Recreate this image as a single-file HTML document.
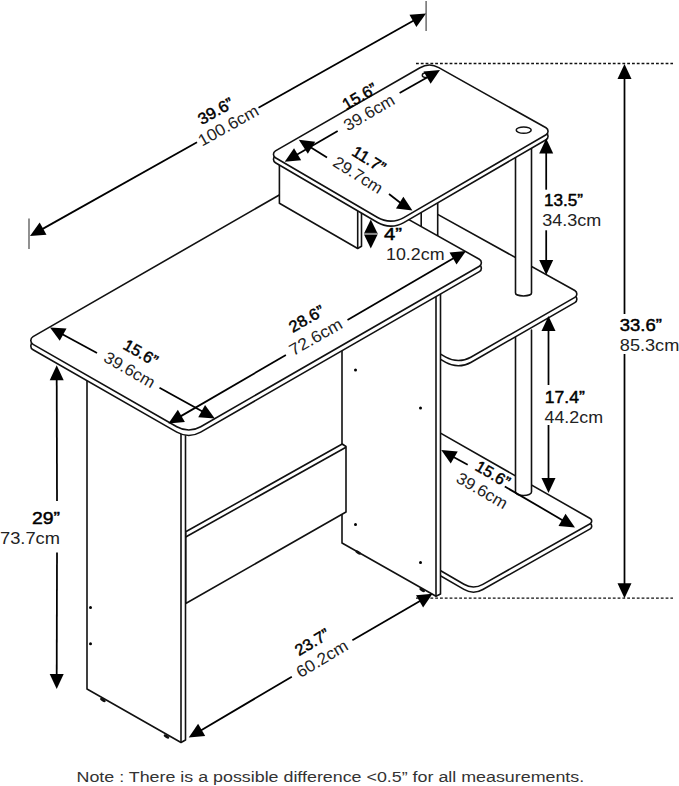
<!DOCTYPE html>
<html><head><meta charset="utf-8"><style>
html,body{margin:0;padding:0;background:#fff;}
svg{display:block;font-family:"Liberation Sans",sans-serif;}
</style></head><body>
<svg width="679" height="786" viewBox="0 0 679 786">
<rect width="679" height="786" fill="#fff"/>
<path d="M430 432.31 L590.2 523.67 A3 3 0 0 1 590.19 528.89 L482.85 589.54 A19 19 0 0 1 463.96 589.43 L430 569.7 L430 432.31 Z" fill="#fff" stroke="#111" stroke-width="1.6" stroke-linejoin="round" stroke-linecap="round"/>
<path d="M430 427.11 L590.2 518.47 A3 3 0 0 1 590.19 523.69 L482.85 584.34 A19 19 0 0 1 463.96 584.23 L430 564.5 L430 427.11 Z" fill="#fff" stroke="#111" stroke-width="1.6" stroke-linejoin="round" stroke-linecap="round"/>
<path d="M515.5 330 L515.5 492 A8 3.5 0 0 0 531.5 492 L531.5 330" fill="#fff" stroke="#111" stroke-width="1.6" stroke-linejoin="round" stroke-linecap="round"/>
<path d="M430 215.29 L574.79 295.65 A4 4 0 0 1 574.84 302.62 L470.8 362.44 A25 25 0 0 1 445.77 362.37 L430 353.2 L430 215.29 Z" fill="#fff" stroke="#111" stroke-width="1.6" stroke-linejoin="round" stroke-linecap="round"/>
<path d="M430 210.09 L574.79 290.45 A4 4 0 0 1 574.84 297.42 L470.8 357.24 A25 25 0 0 1 445.77 357.17 L430 348 L430 210.09 Z" fill="#fff" stroke="#111" stroke-width="1.6" stroke-linejoin="round" stroke-linecap="round"/>
<path d="M515.5 140 L515.5 293 A8 3 0 0 0 531.5 293 L531.5 140" fill="#fff" stroke="#111" stroke-width="1.6" stroke-linejoin="round" stroke-linecap="round"/>
<path d="M421.2 190 L421.2 240 L437.7 240 L437.7 190 Z" fill="#fff" stroke="#111" stroke-width="1.6" stroke-linejoin="round"/>
<path d="M342 344 L342 543 L436 596.2 L440.5 594 L440.5 289 L342 344 Z" fill="#fff" stroke="#111" stroke-width="1.6" stroke-linejoin="round"/>
<line x1="436" y1="292" x2="436" y2="596.2" stroke="#111" stroke-width="1.6" />
<path d="M185.7 531.8 L342.2 444 L346 446.5 L346 512 L185.7 603.5 Z" fill="#fff" stroke="#111" stroke-width="1.6" stroke-linejoin="round"/>
<line x1="185.7" y1="537" x2="346" y2="447.2" stroke="#111" stroke-width="1.6" />
<path d="M87 370 L87 689 L181 742.5 L185.5 740 L185.5 430 L87 370 Z" fill="#fff" stroke="#111" stroke-width="1.6" stroke-linejoin="round"/>
<line x1="181" y1="432" x2="181" y2="742.5" stroke="#111" stroke-width="1.6" />
<path d="M33.05 341.99 L316.74 178.87 A10 10 0 0 1 326.62 178.82 L479.35 264.66 A4 4 0 0 1 479.39 271.61 L200.71 432.13 A24 24 0 0 1 176.8 432.16 L33.06 349.8 A4.5 4.5 0 0 1 33.05 341.99 Z" fill="#fff" stroke="#111" stroke-width="1.6" stroke-linejoin="round" stroke-linecap="round"/>
<path d="M33.05 336.59 L316.74 173.47 A10 10 0 0 1 326.62 173.42 L479.35 259.26 A4 4 0 0 1 479.39 266.21 L200.71 426.73 A24 24 0 0 1 176.8 426.76 L33.06 344.4 A4.5 4.5 0 0 1 33.05 336.59 Z" fill="#fff" stroke="#111" stroke-width="1.6" stroke-linejoin="round" stroke-linecap="round"/>
<path d="M279.4 150 L279.4 203.3 L357.7 248.5 L361.5 246.3 L361.5 190 Z" fill="#fff" stroke="#111" stroke-width="1.6" stroke-linejoin="round"/>
<line x1="357.7" y1="205" x2="357.7" y2="248.5" stroke="#111" stroke-width="1.6" />
<path d="M275.46 155.86 L420 72.75 A19 19 0 0 1 438.77 72.65 L546.02 132.82 A4 4 0 0 1 546.08 139.76 L403.8 222.57 A26 26 0 0 1 377.59 222.54 L275.44 162.78 A4 4 0 0 1 275.46 155.86 Z" fill="#fff" stroke="#111" stroke-width="1.6" stroke-linejoin="round" stroke-linecap="round"/>
<path d="M275.46 150.86 L420 67.75 A19 19 0 0 1 438.77 67.65 L546.02 127.82 A4 4 0 0 1 546.08 134.76 L403.8 217.57 A26 26 0 0 1 377.59 217.54 L275.44 157.78 A4 4 0 0 1 275.46 150.86 Z" fill="#fff" stroke="#111" stroke-width="1.6" stroke-linejoin="round" stroke-linecap="round"/>
<ellipse cx="427" cy="75.2" rx="4.7" ry="2.4" fill="#fff" stroke="#111" stroke-width="1.5"/>
<ellipse cx="523.7" cy="130.1" rx="7.5" ry="3.2" fill="#fff" stroke="#111" stroke-width="1.5"/>
<line x1="416" y1="63.5" x2="673" y2="63.5" stroke="#111" stroke-width="1.3" stroke-dasharray="2.8 2"/>
<line x1="416" y1="598.2" x2="673" y2="598.2" stroke="#111" stroke-width="1.3" stroke-dasharray="2.8 2"/>
<line x1="29" y1="218.5" x2="29" y2="249" stroke="#555" stroke-width="1.3" />
<line x1="426.1" y1="1" x2="426.1" y2="31" stroke="#555" stroke-width="1.3" />
<line x1="40.46" y1="230.12" x2="197" y2="142.2" stroke="#000" stroke-width="1.75" />
<line x1="258.5" y1="107.7" x2="415.54" y2="19.48" stroke="#000" stroke-width="1.75" />
<path d="M30 236 L39.65 222.55 L46.51 234.76 Z" fill="#000"/>
<path d="M426 13.6 L416.35 27.05 L409.49 14.84 Z" fill="#000"/>
<line x1="624.5" y1="76" x2="624.5" y2="314" stroke="#000" stroke-width="1.75" />
<line x1="624.5" y1="354" x2="624.5" y2="586.3" stroke="#000" stroke-width="1.75" />
<path d="M624.5 64 L631.5 79 L617.5 79 Z" fill="#000"/>
<path d="M624.5 598.3 L617.5 583.3 L631.5 583.3 Z" fill="#000"/>
<line x1="546.2" y1="150.5" x2="546.2" y2="189.7" stroke="#000" stroke-width="1.75" />
<line x1="546.2" y1="230.3" x2="546.2" y2="263" stroke="#000" stroke-width="1.75" />
<path d="M546.2 138.5 L553.2 153.5 L539.2 153.5 Z" fill="#000"/>
<path d="M546.2 275 L539.2 260 L553.2 260 Z" fill="#000"/>
<line x1="548.5" y1="328" x2="548.5" y2="385" stroke="#000" stroke-width="1.75" />
<line x1="548.5" y1="425" x2="548.5" y2="481" stroke="#000" stroke-width="1.75" />
<path d="M548.5 316 L555.5 331 L541.5 331 Z" fill="#000"/>
<path d="M548.5 493 L541.5 478 L555.5 478 Z" fill="#000"/>
<line x1="56.7" y1="377.2" x2="57" y2="501" stroke="#000" stroke-width="1.75" />
<line x1="57" y1="552.5" x2="56.7" y2="677" stroke="#000" stroke-width="1.75" />
<path d="M56.7 365.2 L63.7 380.2 L49.7 380.2 Z" fill="#000"/>
<path d="M56.7 689 L49.7 674 L63.7 674 Z" fill="#000"/>
<path d="M370.8 219.5 L377.6 233.5 L364 233.5 Z" fill="#000"/>
<path d="M370.8 248.5 L364 234.5 L377.6 234.5 Z" fill="#000"/>
<line x1="364" y1="233.6" x2="378" y2="233.6" stroke="#888" stroke-width="1.5" />
<line x1="295.03" y1="155.69" x2="337.7" y2="131" stroke="#000" stroke-width="1.75" />
<line x1="399.6" y1="93" x2="429.67" y2="76.11" stroke="#000" stroke-width="1.75" />
<path d="M284.7 161.8 L294.05 148.14 L301.17 160.19 Z" fill="#000"/>
<path d="M440 70 L430.65 83.66 L423.53 71.61 Z" fill="#000"/>
<line x1="308.98" y1="146.15" x2="327" y2="157.5" stroke="#000" stroke-width="1.75" />
<line x1="389" y1="194" x2="402.22" y2="204.25" stroke="#000" stroke-width="1.75" />
<path d="M298.8 139.8 L315.23 141.79 L307.83 153.67 Z" fill="#000"/>
<path d="M412.4 210.6 L395.97 208.61 L403.37 196.73 Z" fill="#000"/>
<line x1="178.78" y1="417.38" x2="285.9" y2="355" stroke="#000" stroke-width="1.75" />
<line x1="347.5" y1="319.9" x2="455.62" y2="257.02" stroke="#000" stroke-width="1.75" />
<path d="M168.4 423.4 L177.87 409.82 L184.89 421.94 Z" fill="#000"/>
<path d="M466 251 L456.53 264.58 L449.51 252.46 Z" fill="#000"/>
<line x1="60.51" y1="333.3" x2="97" y2="353" stroke="#000" stroke-width="1.75" />
<line x1="159.5" y1="387.7" x2="204.29" y2="412.6" stroke="#000" stroke-width="1.75" />
<path d="M50 327.5 L66.52 328.62 L59.75 340.87 Z" fill="#000"/>
<path d="M214.8 418.4 L198.28 417.28 L205.05 405.03 Z" fill="#000"/>
<line x1="451.64" y1="456.01" x2="467.7" y2="464.7" stroke="#000" stroke-width="1.75" />
<line x1="504.8" y1="486.5" x2="564.61" y2="521.39" stroke="#000" stroke-width="1.75" />
<path d="M441.25 450 L457.74 451.45 L450.73 463.57 Z" fill="#000"/>
<path d="M575 527.4 L558.51 525.95 L565.52 513.83 Z" fill="#000"/>
<line x1="199.09" y1="731.4" x2="291.8" y2="676.8" stroke="#000" stroke-width="1.75" />
<line x1="352.4" y1="640.3" x2="422.16" y2="599.85" stroke="#000" stroke-width="1.75" />
<path d="M188.75 737.5 L198.11 723.85 L205.23 735.91 Z" fill="#000"/>
<path d="M432.5 593.75 L423.14 607.4 L416.02 595.34 Z" fill="#000"/>
<g transform="translate(231 130.5) rotate(-29.2)"><text x="-4" y="-19" text-anchor="middle" font-size="16" fill="#000" stroke="#000" stroke-width="0.45" textLength="38" lengthAdjust="spacingAndGlyphs">39.6”</text><text x="0" y="0" text-anchor="middle" font-size="16.5" fill="#222" textLength="66.5" lengthAdjust="spacingAndGlyphs">100.6cm</text></g>
<g transform="translate(371.9 117.4) rotate(-30.1)"><text x="0" y="-19" text-anchor="middle" font-size="16" fill="#000" stroke="#000" stroke-width="0.45" textLength="37" lengthAdjust="spacingAndGlyphs">15.6”</text><text x="0" y="0" text-anchor="middle" font-size="16.5" fill="#222" textLength="56" lengthAdjust="spacingAndGlyphs">39.6cm</text></g>
<g transform="translate(355.1 179.8) rotate(32)"><text x="1" y="-19.2" text-anchor="middle" font-size="16" fill="#000" stroke="#000" stroke-width="0.45" textLength="36" lengthAdjust="spacingAndGlyphs">11.7”</text><text x="0" y="0" text-anchor="middle" font-size="16.5" fill="#222" textLength="55" lengthAdjust="spacingAndGlyphs">29.7cm</text></g>
<g transform="translate(318.5 341.8) rotate(-29.7)"><text x="1" y="-20.5" text-anchor="middle" font-size="16" fill="#000" stroke="#000" stroke-width="0.45" textLength="38" lengthAdjust="spacingAndGlyphs">28.6”</text><text x="0" y="0" text-anchor="middle" font-size="16.5" fill="#222" textLength="58" lengthAdjust="spacingAndGlyphs">72.6cm</text></g>
<g transform="translate(126.8 374.7) rotate(30)"><text x="1" y="-20.5" text-anchor="middle" font-size="16" fill="#000" stroke="#000" stroke-width="0.45" textLength="37" lengthAdjust="spacingAndGlyphs">15.6”</text><text x="0" y="0" text-anchor="middle" font-size="16.5" fill="#222" textLength="56" lengthAdjust="spacingAndGlyphs">39.6cm</text></g>
<g transform="translate(479.3 495.5) rotate(30)"><text x="1" y="-19.8" text-anchor="middle" font-size="16" fill="#000" stroke="#000" stroke-width="0.45" textLength="37" lengthAdjust="spacingAndGlyphs">15.6”</text><text x="0" y="0" text-anchor="middle" font-size="16.5" fill="#222" textLength="56" lengthAdjust="spacingAndGlyphs">39.6cm</text></g>
<g transform="translate(325 663.5) rotate(-31)"><text x="0" y="-19.5" text-anchor="middle" font-size="16" fill="#000" stroke="#000" stroke-width="0.45" textLength="37" lengthAdjust="spacingAndGlyphs">23.7”</text><text x="0" y="0" text-anchor="middle" font-size="16.5" fill="#222" textLength="57" lengthAdjust="spacingAndGlyphs">60.2cm</text></g>
<text x="544" y="206" font-size="16" stroke="#000" stroke-width="0.45" fill="#000" text-anchor="start" textLength="39" lengthAdjust="spacingAndGlyphs">13.5”</text>
<text x="542.3" y="226.2" font-size="16.5" fill="#222" text-anchor="start" textLength="59" lengthAdjust="spacingAndGlyphs">34.3cm</text>
<text x="619.8" y="331" font-size="16" stroke="#000" stroke-width="0.45" fill="#000" text-anchor="start" textLength="42" lengthAdjust="spacingAndGlyphs">33.6”</text>
<text x="619.8" y="351" font-size="16.5" fill="#222" text-anchor="start" textLength="59.5" lengthAdjust="spacingAndGlyphs">85.3cm</text>
<text x="544.8" y="402.5" font-size="16" stroke="#000" stroke-width="0.45" fill="#000" text-anchor="start" textLength="40" lengthAdjust="spacingAndGlyphs">17.4”</text>
<text x="544.5" y="422.5" font-size="16.5" fill="#222" text-anchor="start" textLength="58.5" lengthAdjust="spacingAndGlyphs">44.2cm</text>
<text x="60" y="524" font-size="16" stroke="#000" stroke-width="0.45" fill="#000" text-anchor="end" textLength="28" lengthAdjust="spacingAndGlyphs">29”</text>
<text x="60" y="544" font-size="16.5" fill="#222" text-anchor="end" textLength="60" lengthAdjust="spacingAndGlyphs">73.7cm</text>
<text x="384" y="239.7" font-size="16" stroke="#000" stroke-width="0.45" fill="#000" text-anchor="start" textLength="18" lengthAdjust="spacingAndGlyphs">4”</text>
<text x="386" y="259.6" font-size="16.5" fill="#222" text-anchor="start" textLength="58.5" lengthAdjust="spacingAndGlyphs">10.2cm</text>
<text x="76.5" y="781.8" font-size="15.5" fill="#333" text-anchor="start" textLength="507.7" lengthAdjust="spacingAndGlyphs">Note : There is a possible difference &lt;0.5” for all measurements.</text>
<ellipse cx="102.9" cy="700" rx="3.2" ry="1.5" transform="rotate(30 102.9 700)" fill="#111"/>
<ellipse cx="166.5" cy="736.5" rx="3.2" ry="1.5" transform="rotate(30 166.5 736.5)" fill="#111"/>
<ellipse cx="358.2" cy="552.5" rx="3.2" ry="1.5" transform="rotate(30 358.2 552.5)" fill="#111"/>
<ellipse cx="422.2" cy="590" rx="3.2" ry="1.5" transform="rotate(30 422.2 590)" fill="#111"/>
<circle cx="355.5" cy="370" r="1.5" fill="#000"/>
<circle cx="420.5" cy="408" r="1.5" fill="#000"/>
<circle cx="355.5" cy="524.5" r="1.5" fill="#000"/>
<circle cx="420.5" cy="562.5" r="1.5" fill="#000"/>
<circle cx="90.5" cy="607.5" r="1.5" fill="#000"/>
<circle cx="90.5" cy="643.75" r="1.5" fill="#000"/>
</svg></body></html>
